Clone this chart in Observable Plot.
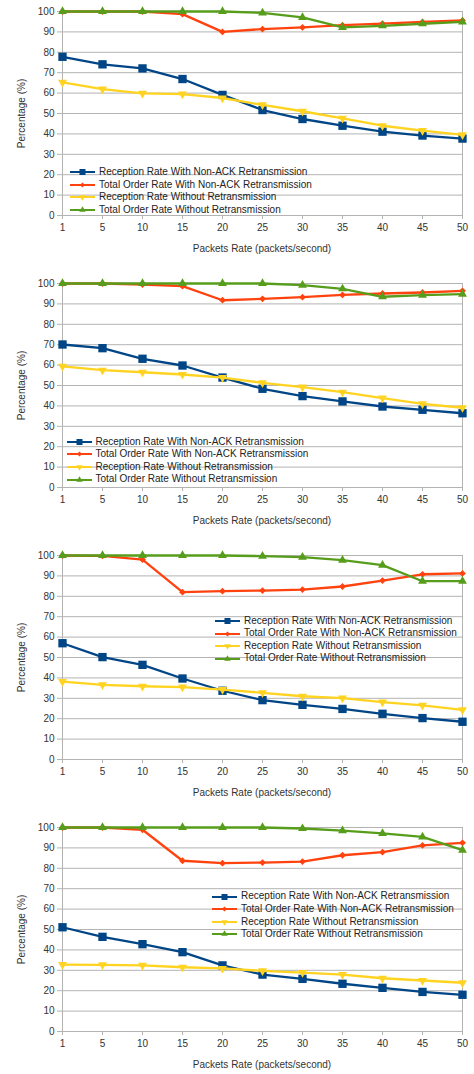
<!DOCTYPE html>
<html>
<head>
<meta charset="utf-8">
<script src="https://cdn.jsdelivr.net/npm/d3@7"></script>
<script src="https://cdn.jsdelivr.net/npm/@observablehq/plot@0.6"></script>
<style>
  body { margin: 0; background: #fff; font-family: "Liberation Sans", Arial, sans-serif; }
  .panel { position: relative; width: 474px; height: 272px; overflow: visible; }
  .panel svg.plot { display: block; }
  .legend { position: absolute; font-size: 10px; color: #222; line-height: 12.6px; }
  .legend .row { display: flex; align-items: center; height: 12.6px; white-space: nowrap; }
  .legend .row svg { display: block; margin-right: 2px; }
</style>
</head>
<body>
<div id="root"></div>
<script>
// ---- shared categories / labels ----
const rates = ["1", "5", "10", "15", "20", "25", "30", "35", "40", "45", "50"];
const yTicks = [0, 10, 20, 30, 40, 50, 60, 70, 80, 90, 100];
const seriesNames = [
  "Reception Rate With Non-ACK Retransmission",
  "Total Order Rate With Non-ACK Retransmission",
  "Reception Rate Without Retransmission",
  "Total Order Rate Without Retransmission"
];
const xLabel = "Packets Rate (packets/second)";
const yLabel = "Percentage (%)";

// ---- chart 1 ----
const c1RecWithRetx   = [77.8, 74.1, 72.1, 66.9, 59.1, 51.7, 47.3, 44.0, 41.1, 39.2, 37.7];
const c1OrderWithRetx = [100, 100, 100, 98.7, 90.0, 91.4, 92.2, 93.3, 94.1, 94.9, 95.6];
const c1RecNoRetx     = [65.3, 62.0, 59.9, 59.5, 57.6, 54.2, 51.1, 47.6, 44.0, 41.6, 39.5];
const c1OrderNoRetx   = [100, 100, 100, 100, 100, 99.3, 97.1, 92.2, 93.0, 94.0, 94.9];

// ---- chart 2 ----
const c2RecWithRetx   = [70.1, 68.3, 63.1, 59.8, 53.9, 48.4, 44.8, 42.2, 39.7, 38.1, 36.4];
const c2OrderWithRetx = [100, 100, 99.5, 98.7, 91.8, 92.5, 93.3, 94.4, 95.1, 95.6, 96.4];
const c2RecNoRetx     = [59.4, 57.5, 56.5, 55.4, 53.9, 51.3, 49.2, 46.7, 43.8, 41.0, 39.1];
const c2OrderNoRetx   = [100, 100, 100, 100, 100, 100, 99.2, 97.4, 93.5, 94.3, 94.8];

// ---- chart 3 ----
const c3RecWithRetx   = [57.0, 50.2, 46.4, 39.7, 33.7, 29.1, 26.8, 24.8, 22.4, 20.3, 18.5];
const c3OrderWithRetx = [100, 99.8, 98.0, 82.0, 82.5, 82.8, 83.3, 84.8, 87.7, 90.8, 91.2];
const c3RecNoRetx     = [38.2, 36.6, 35.9, 35.5, 34.3, 32.7, 31.0, 30.1, 28.1, 26.5, 24.3];
const c3OrderNoRetx   = [100, 100, 100, 100, 100, 99.7, 99.2, 97.7, 95.3, 87.4, 87.4];

// ---- chart 4 ----
const c4RecWithRetx   = [51.1, 46.4, 42.8, 38.9, 32.4, 27.9, 25.8, 23.4, 21.4, 19.4, 18.0];
const c4OrderWithRetx = [100, 100, 98.9, 83.7, 82.5, 82.8, 83.3, 86.4, 87.9, 91.2, 92.5];
const c4RecNoRetx     = [32.8, 32.7, 32.4, 31.5, 30.9, 29.7, 28.9, 27.9, 26.1, 25.0, 23.9];
const c4OrderNoRetx   = [100, 100, 100, 100, 100, 100, 99.5, 98.5, 97.1, 95.4, 88.9];

// ---- styles ----
const colors = ["#004586", "#ff420e", "#ffd320", "#579d1c"];
const symbols = ["square", "square", "triangle", "triangle"];
const rotations = [0, 45, 180, 0];
const radii = [4.7, 2.7, 3.3, 3.3];
const legendRadii = [3.4, 2.0, 2.4, 2.4];
const d3Symbols = { square: d3.symbolSquare, triangle: d3.symbolTriangle };

const panels = [
  { series: [c1RecWithRetx, c1OrderWithRetx, c1RecNoRetx, c1OrderNoRetx], legend: { left: 70, top: 166 } },
  { series: [c2RecWithRetx, c2OrderWithRetx, c2RecNoRetx, c2OrderNoRetx], legend: { left: 66.5, top: 163.5 } },
  { series: [c3RecWithRetx, c3OrderWithRetx, c3RecNoRetx, c3OrderNoRetx], legend: { left: 215, top: 70.7 } },
  { series: [c4RecWithRetx, c4OrderWithRetx, c4RecNoRetx, c4OrderNoRetx], legend: { left: 212, top: 74.4 } }
];

const root = document.getElementById("root");

panels.forEach((p) => {
  const wrap = document.createElement("div");
  wrap.className = "panel";

  const marks = [
    Plot.gridY(yTicks, { stroke: "#b3b3b3", strokeOpacity: 1, strokeWidth: 1 }),
    Plot.ruleX([rates[0], rates[rates.length - 1]], { stroke: "#b3b3b3", strokeWidth: 1 }),
    Plot.axisY(yTicks, {
      tickSize: 4, tickPadding: 3, stroke: "#b3b3b3", fill: "#333",
      label: yLabel, labelAnchor: "center", labelOffset: 44, labelArrow: "none"
    }),
    Plot.axisX({
      tickSize: 4, tickPadding: 4, stroke: "#b3b3b3", fill: "#333",
      label: xLabel, labelAnchor: "center", labelOffset: 36, labelArrow: "none"
    })
  ];

  // each series: line then its markers (drawn in series order)
  p.series.forEach((vals, i) => {
    const d = vals.map((v, j) => ({ rate: rates[j], value: v, series: seriesNames[i] }));
    marks.push(Plot.line(d, { x: "rate", y: "value", stroke: colors[i], strokeWidth: 2.3 }));
    marks.push(Plot.dot(d, {
      x: "rate", y: "value", symbol: symbols[i], r: radii[i],
      fill: colors[i], stroke: "none", rotate: rotations[i]
    }));
  });

  const chart = Plot.plot({
    width: 474,
    height: 272,
    marginTop: 11,
    marginBottom: 57,
    marginLeft: 61,
    marginRight: 12,
    style: { fontFamily: "'Liberation Sans', Arial, sans-serif", fontSize: "10px", color: "#333", background: "#fff" },
    x: { type: "point", domain: rates, padding: 0 },
    y: { domain: [0, 100] },
    marks
  });
  chart.classList.add("plot");
  wrap.appendChild(chart);

  // legend overlay
  const lg = document.createElement("div");
  lg.className = "legend";
  lg.style.left = p.legend.left + "px";
  lg.style.top = p.legend.top + "px";
  seriesNames.forEach((name, i) => {
    const row = document.createElement("div");
    row.className = "row";
    const sw = d3.create("svg").attr("width", 27).attr("height", 12);
    sw.append("line").attr("x1", 0).attr("x2", 25).attr("y1", 6).attr("y2", 6)
      .attr("stroke", colors[i]).attr("stroke-width", 2);
    sw.append("path")
      .attr("d", d3.symbol(d3Symbols[symbols[i]], Math.PI * legendRadii[i] * legendRadii[i])())
      .attr("transform", `translate(12.5,6) rotate(${rotations[i]})`)
      .attr("fill", colors[i]);
    row.appendChild(sw.node());
    const t = document.createElement("span");
    t.textContent = name;
    row.appendChild(t);
    lg.appendChild(row);
  });
  wrap.appendChild(lg);

  root.appendChild(wrap);
});
</script>
</body>
</html>
